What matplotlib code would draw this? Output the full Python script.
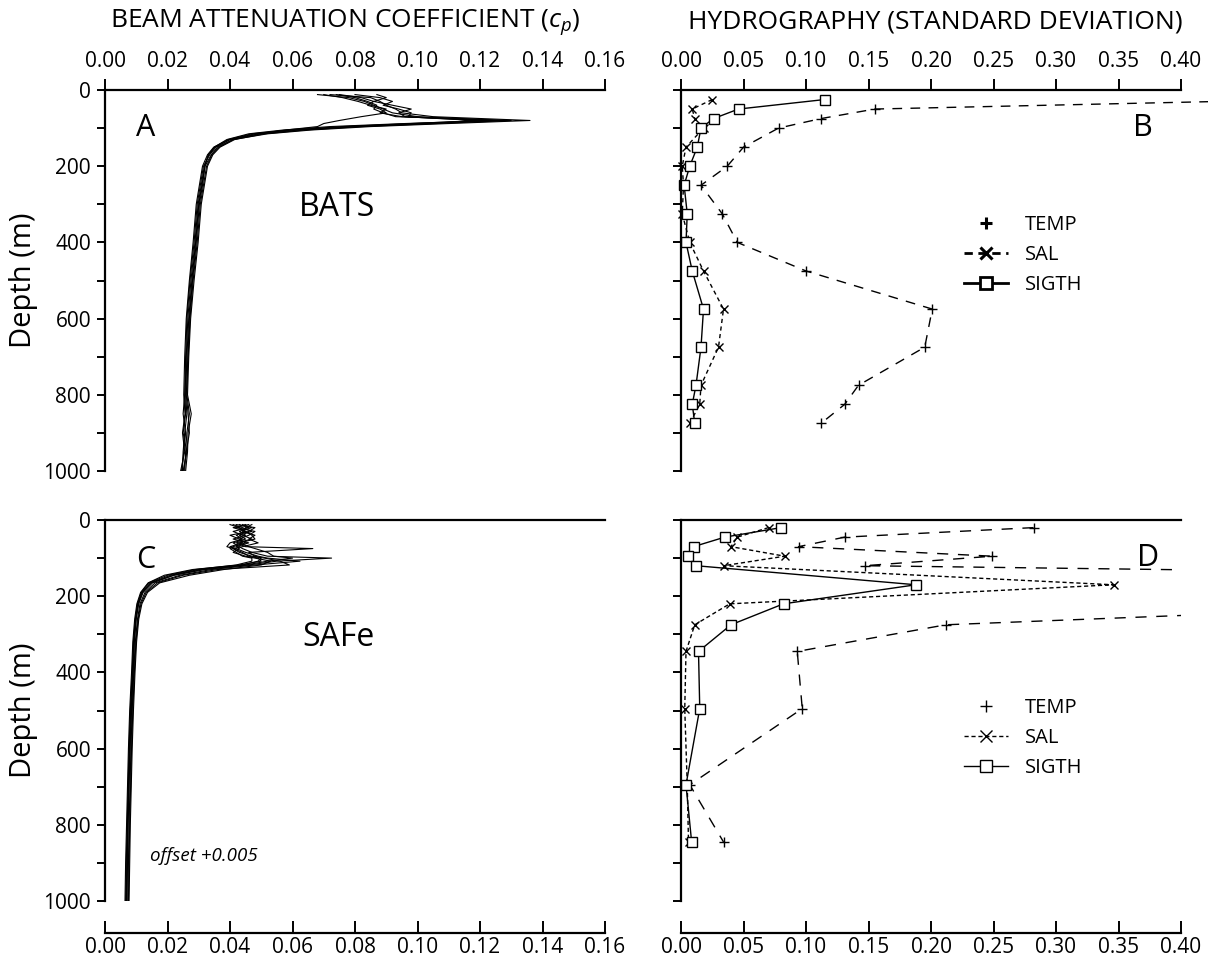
import matplotlib.pyplot as plt
from matplotlib.lines import Line2D

plt.rcParams['font.family'] = ['Open Sans', 'DejaVu Sans']
plt.rcParams['mathtext.fontset'] = 'custom'
plt.rcParams['mathtext.it'] = 'Open Sans:italic'
plt.rcParams['mathtext.rm'] = 'Open Sans'

# ---- BATS beam attenuation casts (cp, 1/m) ----
depth_bats = [12, 20, 30, 40, 50, 60, 70, 80, 88, 96, 105, 115, 130, 150, 170,
              200, 250, 300, 400, 500, 600, 700, 800, 850, 900, 950, 1000]
bats_casts = [
    [0.072, 0.085, 0.088, 0.090, 0.093, 0.095, 0.105, 0.136, 0.110, 0.085, 0.066, 0.052, 0.041, 0.036,
     0.034, 0.032, 0.0310, 0.0300, 0.0290, 0.0278, 0.0268, 0.0262, 0.0258, 0.0262, 0.0255, 0.0250, 0.0248],
    [0.068, 0.078, 0.083, 0.086, 0.089, 0.092, 0.100, 0.128, 0.100, 0.078, 0.060, 0.048, 0.040, 0.0355,
     0.0335, 0.0315, 0.0305, 0.0295, 0.0285, 0.0272, 0.0262, 0.0258, 0.0255, 0.0250, 0.0258, 0.0252, 0.0245],
    [0.080, 0.088, 0.092, 0.089, 0.094, 0.098, 0.097, 0.124, 0.096, 0.072, 0.057, 0.046, 0.039, 0.0350,
     0.0330, 0.0320, 0.0312, 0.0302, 0.0292, 0.0280, 0.0270, 0.0265, 0.0262, 0.0270, 0.0262, 0.0258, 0.0255],
    [0.075, 0.082, 0.086, 0.084, 0.088, 0.090, 0.082, 0.075, 0.070, 0.068, 0.058, 0.049, 0.041, 0.0365,
     0.0342, 0.0325, 0.0315, 0.0305, 0.0295, 0.0282, 0.0272, 0.0266, 0.0260, 0.0266, 0.0270, 0.0260, 0.0252],
    [0.087, 0.090, 0.086, 0.092, 0.098, 0.094, 0.096, 0.118, 0.104, 0.080, 0.062, 0.050, 0.040, 0.0352,
     0.0332, 0.0318, 0.0308, 0.0298, 0.0288, 0.0275, 0.0265, 0.0260, 0.0256, 0.0258, 0.0250, 0.0262, 0.0250],
    [0.074, 0.080, 0.084, 0.087, 0.086, 0.089, 0.093, 0.130, 0.106, 0.082, 0.064, 0.051, 0.0415, 0.0368,
     0.0345, 0.0328, 0.0318, 0.0308, 0.0298, 0.0285, 0.0274, 0.0268, 0.0264, 0.0276, 0.0266, 0.0264, 0.0258],
    [0.070, 0.076, 0.081, 0.085, 0.090, 0.088, 0.095, 0.121, 0.098, 0.076, 0.059, 0.047, 0.0395, 0.0348,
     0.0328, 0.0312, 0.0302, 0.0292, 0.0282, 0.0270, 0.0260, 0.0255, 0.0252, 0.0256, 0.0248, 0.0255, 0.0242],
]

# ---- SAFe beam attenuation casts (cp + 0.005) ----
depth_safe = [12, 20, 30, 40, 50, 60, 70, 75, 85, 95, 100, 108, 118, 130, 145, 165, 190,
              220, 260, 320, 400, 500, 600, 700, 800, 900, 1000]
safe_casts = [
    [0.043, 0.046, 0.041, 0.044, 0.047, 0.042, 0.045, 0.0665, 0.046, 0.048, 0.050, 0.049, 0.044, 0.030,
     0.021, 0.0145, 0.0118, 0.0105, 0.0098, 0.0092, 0.0088, 0.0082, 0.0078, 0.0075, 0.0072, 0.0070, 0.0068],
    [0.041, 0.044, 0.047, 0.043, 0.045, 0.041, 0.043, 0.044, 0.047, 0.052, 0.0725, 0.055, 0.046, 0.032,
     0.022, 0.0152, 0.0122, 0.0108, 0.0100, 0.0094, 0.0090, 0.0085, 0.0080, 0.0077, 0.0074, 0.0072, 0.0070],
    [0.045, 0.042, 0.048, 0.046, 0.043, 0.044, 0.040, 0.042, 0.045, 0.049, 0.052, 0.0624, 0.048, 0.034,
     0.024, 0.016, 0.0128, 0.0112, 0.0104, 0.0097, 0.0092, 0.0087, 0.0083, 0.0080, 0.0077, 0.0075, 0.0073],
    [0.047, 0.045, 0.044, 0.048, 0.046, 0.049, 0.044, 0.041, 0.043, 0.047, 0.051, 0.056, 0.059, 0.036,
     0.025, 0.0168, 0.0132, 0.0115, 0.0106, 0.0099, 0.0094, 0.0089, 0.0085, 0.0082, 0.0079, 0.0077, 0.0075],
    [0.040, 0.043, 0.045, 0.042, 0.044, 0.040, 0.039, 0.041, 0.044, 0.046, 0.049, 0.050, 0.043, 0.028,
     0.019, 0.0138, 0.0114, 0.0102, 0.0095, 0.0089, 0.0085, 0.0079, 0.0075, 0.0072, 0.0069, 0.0066, 0.0064],
    [0.044, 0.047, 0.043, 0.045, 0.041, 0.046, 0.042, 0.043, 0.041, 0.045, 0.048, 0.053, 0.050, 0.038,
     0.027, 0.0175, 0.0136, 0.0118, 0.0108, 0.0101, 0.0096, 0.0091, 0.0087, 0.0084, 0.0081, 0.0079, 0.0077],
    [0.046, 0.041, 0.045, 0.047, 0.048, 0.043, 0.046, 0.048, 0.052, 0.054, 0.060, 0.052, 0.045, 0.031,
     0.022, 0.0148, 0.0120, 0.0106, 0.0099, 0.0093, 0.0089, 0.0084, 0.0080, 0.0076, 0.0073, 0.0071, 0.0069],
    [0.042, 0.048, 0.046, 0.040, 0.043, 0.045, 0.041, 0.040, 0.042, 0.044, 0.047, 0.047, 0.042, 0.029,
     0.020, 0.0140, 0.0116, 0.0104, 0.0097, 0.0091, 0.0087, 0.0081, 0.0077, 0.0074, 0.0071, 0.0068, 0.0066],
]

# ---- hydrography standard deviations, BATS ----
depth_b = [25, 50, 75, 100, 150, 200, 250, 325, 400, 475, 575, 675, 775, 825, 875]
temp_b = [0.50, 0.155, 0.112, 0.078, 0.050, 0.037, 0.016, 0.033, 0.045, 0.100, 0.201, 0.195, 0.142, 0.131, 0.112]
sal_b = [0.025, 0.009, 0.011, 0.018, 0.004, 0.001, 0.002, 0.001, 0.007, 0.018, 0.034, 0.030, 0.016, 0.015, 0.007]
sigth_b = [0.115, 0.046, 0.026, 0.016, 0.013, 0.007, 0.0025, 0.005, 0.004, 0.009, 0.018, 0.016, 0.012, 0.009, 0.011]

# ---- hydrography standard deviations, SAFe ----
depth_d = [20, 45, 70, 95, 120, 170, 220, 275, 345, 495, 695, 845]
temp_d = [0.282, 0.131, 0.094, 0.249, 0.147, 1.34, 0.636, 0.212, 0.093, 0.097, 0.007, 0.034]
sal_d = [0.070, 0.045, 0.040, 0.083, 0.034, 0.346, 0.039, 0.011, 0.004, 0.003, 0.005, 0.006]
sigth_d = [0.080, 0.035, 0.010, 0.0055, 0.012, 0.188, 0.082, 0.040, 0.014, 0.015, 0.004, 0.0085]

cp_ticks = [0.00, 0.02, 0.04, 0.06, 0.08, 0.10, 0.12, 0.14, 0.16]
sd_ticks = [0.00, 0.05, 0.10, 0.15, 0.20, 0.25, 0.30, 0.35, 0.40]
depth_labels = [0, 200, 400, 600, 800, 1000]

W, H = 1208, 969
fig = plt.figure(figsize=(W / 100, H / 100), dpi=100)


def box(x0, y0, x1, y1):
    # pixel box (top-left origin) -> figure fraction rect
    return [x0 / W, 1 - y1 / H, (x1 - x0) / W, (y1 - y0) / H]


axA = fig.add_axes(box(105, 90, 605, 471))
axB = fig.add_axes(box(681, 90, 1181, 471))
axC = fig.add_axes(box(105, 520, 605, 901))
axD = fig.add_axes(box(681, 520, 1181, 901))


def depth_axis(ax, show_labels):
    ax.set_ylim(1000, 0)
    ax.set_yticks(range(0, 1001, 100))
    ax.set_yticklabels([str(v) if v in depth_labels else '' for v in range(0, 1001, 100)]
                       if show_labels else [])
    ax.spines['right'].set_visible(False)
    for s in ['left', 'top', 'bottom']:
        ax.spines[s].set_linewidth(1.6)
    ax.tick_params(axis='y', direction='out', length=6, width=1.4, labelsize=15, pad=4)


def top_xaxis(ax, ticks, fmt):
    ax.set_xlim(ticks[0], ticks[-1])
    ax.set_xticks(ticks)
    ax.set_xticklabels([fmt % t for t in ticks])
    ax.xaxis.set_ticks_position('top')
    ax.xaxis.set_label_position('top')
    ax.tick_params(axis='x', direction='out', length=8, width=1.4, labelsize=15, pad=5)
    ax.spines['bottom'].set_visible(False)


def bottom_xaxis(ax, ticks, fmt):
    ax.set_xlim(ticks[0], ticks[-1])
    ax.set_xticks(ticks)
    ax.set_xticklabels([fmt % t for t in ticks])
    ax.xaxis.set_ticks_position('bottom')
    ax.spines['bottom'].set_position(('outward', 23))
    ax.tick_params(axis='x', direction='in', length=9, width=1.4, labelsize=15, pad=3)


# A: BATS cp profiles
for cast in bats_casts:
    axA.plot(cast, depth_bats, color='k', lw=0.8)
depth_axis(axA, True)
top_xaxis(axA, cp_ticks, '%.2f')
axA.set_ylabel('Depth (m)', fontsize=21, labelpad=4)
axA.text(0.010, 122, 'A', fontsize=22)
axA.text(0.062, 330, 'BATS', fontsize=23)

# C: SAFe cp profiles
for cast in safe_casts:
    axC.plot(cast, depth_safe, color='k', lw=0.8)
depth_axis(axC, True)
bottom_xaxis(axC, cp_ticks, '%.2f')
axC.set_ylabel('Depth (m)', fontsize=21, labelpad=4)
axC.text(0.010, 125, 'C', fontsize=22)
axC.text(0.063, 330, 'SAFe', fontsize=23)
axC.text(0.0145, 895, 'offset +0.005', fontsize=13.5, style='italic')

# B: BATS hydrography
axB.plot(temp_b, depth_b, color='k', lw=1.0, dashes=(7, 6), marker='+', ms=7, mew=1.0, clip_on=False)
axB.plot(sal_b, depth_b, color='k', lw=1.0, dashes=(3, 2.5), marker='x', ms=6, mew=1.0, clip_on=False)
axB.plot(sigth_b, depth_b, color='k', lw=1.0, marker='s', ms=7, mfc='white', mew=1.0, clip_on=False)
depth_axis(axB, False)
top_xaxis(axB, sd_ticks, '%.2f')
axB.text(0.362, 120, 'B', fontsize=22)
leg_b = [Line2D([], [], color='k', ls='none', marker='+', ms=9, mew=2.2),
         Line2D([], [], color='k', lw=2.0, dashes=(3, 2), marker='x', ms=8, mew=2.2),
         Line2D([], [], color='k', lw=2.0, marker='s', ms=9, mfc='white', mew=2.0)]
axB.legend(leg_b, ['TEMP', 'SAL', 'SIGTH'], loc='upper left', bbox_to_anchor=(0.53, 0.72),
           frameon=False, fontsize=14.5, handlelength=2.2, labelspacing=0.5, handletextpad=0.8)

# D: SAFe hydrography
axD.plot(temp_d, depth_d, color='k', lw=1.0, dashes=(8, 7), marker='+', ms=7, mew=1.0)
axD.plot(sal_d, depth_d, color='k', lw=1.0, dashes=(3, 2), marker='x', ms=6, mew=1.0, clip_on=False)
axD.plot(sigth_d, depth_d, color='k', lw=1.0, marker='s', ms=7, mfc='white', mew=1.0, clip_on=False)
depth_axis(axD, False)
bottom_xaxis(axD, sd_ticks, '%.2f')
axD.text(0.365, 120, 'D', fontsize=22)
leg_d = [Line2D([], [], color='k', ls='none', marker='+', ms=9, mew=1.0),
         Line2D([], [], color='k', lw=1.0, dashes=(3, 2), marker='x', ms=8, mew=1.0),
         Line2D([], [], color='k', lw=1.0, marker='s', ms=9, mfc='white', mew=1.0)]
axD.legend(leg_d, ['TEMP', 'SAL', 'SIGTH'], loc='upper left', bbox_to_anchor=(0.53, 0.58),
           frameon=False, fontsize=14.5, handlelength=2.2, labelspacing=0.5, handletextpad=0.8)

fig.text(345 / W, 1 - 22 / H, r'BEAM ATTENUATION COEFFICIENT ($c_p$)', fontsize=19,
         ha='center', va='center')
fig.text(935 / W, 1 - 22 / H, 'HYDROGRAPHY (STANDARD DEVIATION)', fontsize=19,
         ha='center', va='center')

fig.savefig('out.png', dpi=100)
